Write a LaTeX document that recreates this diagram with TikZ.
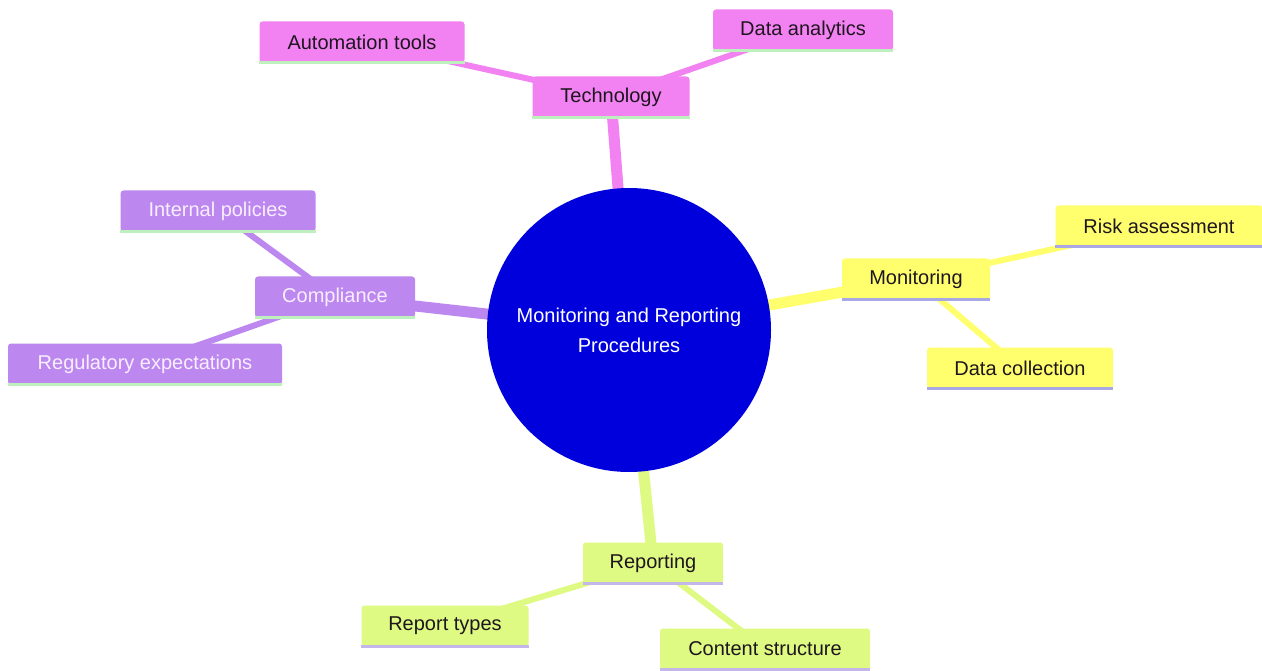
\documentclass[tikz,border=0pt]{standalone}
\usepackage{fontspec}
\setmainfont{Liberation Sans}
\usetikzlibrary{backgrounds}
\definecolor{techc}{RGB}{242,130,242}
\definecolor{compc}{RGB}{188,136,240}
\definecolor{monc}{RGB}{255,255,110}
\definecolor{repc}{RGB}{222,250,130}
\definecolor{cenc}{RGB}{0,0,220}
\definecolor{ulgreen}{RGB}{190,240,190}
\definecolor{ulblue}{RGB}{168,168,228}
\definecolor{ullav}{RGB}{196,182,232}
\definecolor{darktxt}{RGB}{30,22,30}
\definecolor{lighttxt}{RGB}{248,238,255}
\tikzset{
  box/.style={rounded corners=3pt, inner xsep=0pt, minimum height=41pt,
    font=\fontsize{20}{24}\selectfont, text=darktxt},
  ul/.style={append after command={(\tikzlastnode.south west) edge[draw=#1, line width=3pt, -] (\tikzlastnode.south east)}},
  techbox/.style={box, fill=techc, ul=ulgreen},
  compbox/.style={box, fill=compc, ul=ulgreen, text=lighttxt},
  monbox/.style={box, fill=monc, ul=ulblue},
  repbox/.style={box, fill=repc, ul=ullav},
  mainedge/.style={line width=11pt},
  subedge/.style={line width=6pt},
}
\begin{document}
\begin{tikzpicture}[x=1pt,y=-1pt]
\useasboundingbox (0,0) rectangle (1262,671);
\node[circle, fill=cenc, minimum size=284pt, inner sep=0pt, text=white,
  font=\fontsize{20}{30}\selectfont, align=center] (cen) at (629,330)
  {Monitoring and Reporting\\Procedures};
% Technology
\node[techbox, minimum width=157pt] (tech) at (611,97) {Technology};
\node[techbox, minimum width=205pt] (auto) at (362,42) {Automation tools};
\node[techbox, minimum width=180pt] (data) at (803,30) {Data analytics};
% Monitoring
\node[monbox, minimum width=148pt] (mon) at (916,279) {Monitoring};
\node[monbox, minimum width=207pt] (risk) at (1159,226) {Risk assessment};
\node[monbox, minimum width=186pt] (coll) at (1020,368) {Data collection};
% Compliance
\node[compbox, minimum width=160pt] (comp) at (335,297) {Compliance};
\node[compbox, minimum width=195pt] (intp) at (218,211) {Internal policies};
\node[compbox, minimum width=274pt] (regx) at (145,364) {Regulatory expectations};
% Reporting
\node[repbox, minimum width=140pt] (rep) at (653,563) {Reporting};
\node[repbox, minimum width=167pt] (rtyp) at (445,626) {Report types};
\node[repbox, minimum width=210pt] (cstr) at (765,649) {Content structure};
\begin{pgfonlayer}{background}
\fill[white] (0,0) rectangle (1262,671);
\draw[mainedge, techc] (cen.center) -- (tech.center);
\draw[mainedge, monc] (cen.center) -- (mon.center);
\draw[mainedge, compc] (cen.center) -- (comp.center);
\draw[mainedge, repc] (cen.center) -- (rep.center);
\draw[subedge, techc] (tech.center) -- (auto.center);
\draw[subedge, techc] (tech.center) -- (data.center);
\draw[subedge, monc] (mon.center) -- (risk.center);
\draw[subedge, monc] (mon.center) -- (coll.center);
\draw[subedge, compc] (comp.center) -- (intp.center);
\draw[subedge, compc] (comp.center) -- (regx.center);
\draw[subedge, repc] (rep.center) -- (rtyp.center);
\draw[subedge, repc] (rep.center) -- (cstr.center);
\end{pgfonlayer}
\end{tikzpicture}
\end{document}
